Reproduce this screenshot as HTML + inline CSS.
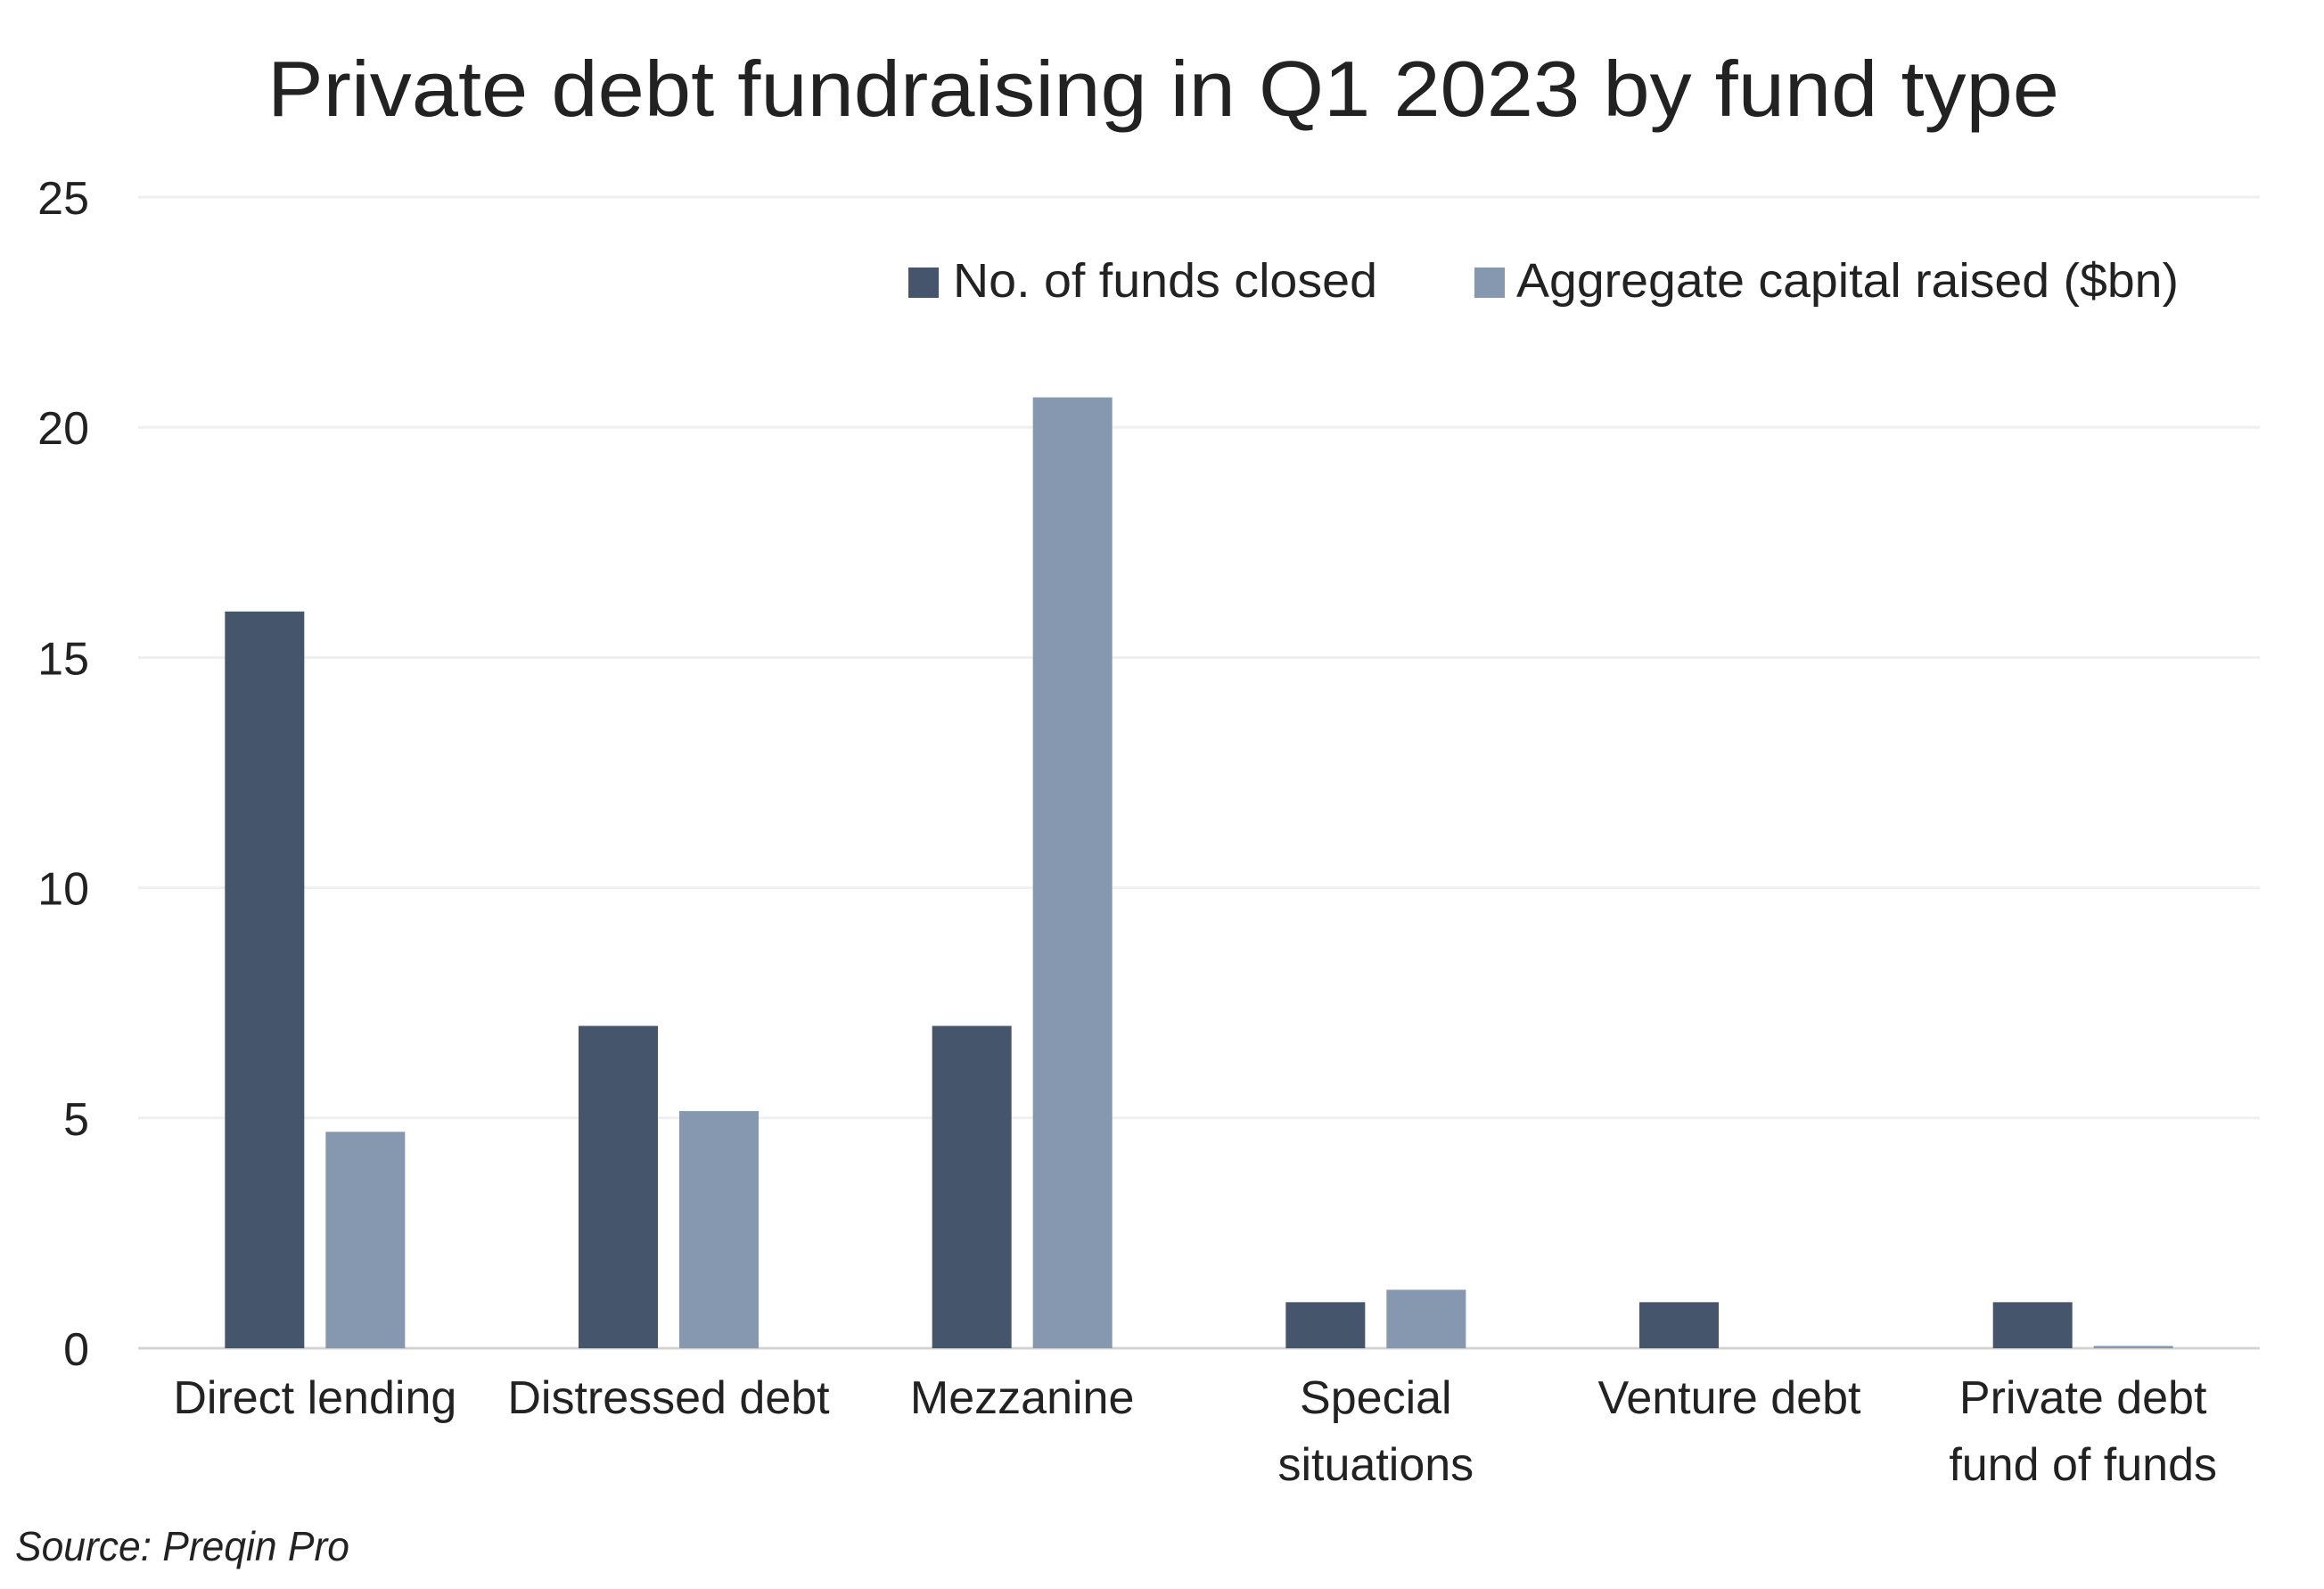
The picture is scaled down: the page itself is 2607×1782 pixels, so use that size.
<!DOCTYPE html>
<html><head><meta charset="utf-8"><style>
html,body{margin:0;padding:0;background:#fff;}
svg{display:block;font-family:"Liberation Sans",sans-serif;}
</style></head><body>
<svg id="chart" width="2607" height="1782" viewBox="0 0 2607 1782" xmlns="http://www.w3.org/2000/svg">
<rect width="2607" height="1782" fill="#fff"/>
<text x="1305" y="130" font-size="88" fill="#222" text-anchor="middle" textLength="2010" lengthAdjust="spacingAndGlyphs">Private debt fundraising in Q1 2023 by fund type</text>
<g id="grid"></g><g id="bars"></g><g id="xlabels"></g>
<g>
<rect x="1019" y="300" width="34" height="34" fill="#45556b"/>
<text x="1069" y="333" font-size="54" fill="#222" textLength="476" lengthAdjust="spacingAndGlyphs">No. of funds closed</text>
<rect x="1654" y="300" width="34" height="34" fill="#8598b0"/>
<text x="1701" y="333" font-size="54" fill="#222" textLength="743" lengthAdjust="spacingAndGlyphs">Aggregate capital raised ($bn)</text>
</g>
<text x="17" y="1750" font-size="46" font-style="italic" fill="#222" textLength="375" lengthAdjust="spacingAndGlyphs">Source: Preqin Pro</text>
</svg>
<script>
const categories = [["Direct lending"],["Distressed debt"],["Mezzanine"],["Special","situations"],["Venture debt"],["Private debt","fund of funds"]];
const fundsClosed = [16, 7, 7, 1, 1, 1];
const capitalRaised = [4.7, 5.15, 20.65, 1.27, 0, 0.05];
const yTicks = [0, 5, 10, 15, 20, 25];
const NS = "http://www.w3.org/2000/svg";
const X0 = 155, X1 = 2535, Y0 = 1512, Y1 = 221, YMAX = 25;
const band = (X1 - X0) / categories.length;
function y(v){ return Y0 - (v / YMAX) * (Y0 - Y1); }
function xc(i){ return X0 + band * (i + 0.5); }
function mk(tag, attrs, parent){ const e = document.createElementNS(NS, tag); for (const k in attrs) e.setAttribute(k, attrs[k]); parent.appendChild(e); return e; }
const grid = document.getElementById('grid');
yTicks.forEach(t => {
  const l = mk('line', {x1: X0, x2: X1, y1: y(t), y2: y(t), stroke: t === 0 ? '#d4d4d4' : '#efefef', 'stroke-width': 3}, grid);
  
  
  const tx = mk('text', {x: 100, y: y(t) + 19, 'font-size': 52, fill: '#222', 'text-anchor': 'end'}, grid);
  tx.textContent = t;
  
  
});
const bars = document.getElementById('bars');
const bw = 89, gap = 24;
categories.forEach((c, i) => {
  const cx = xc(i);
  const b1 = mk('rect', {x: cx - gap/2 - bw, y: y(fundsClosed[i]), width: bw, height: Y0 - y(fundsClosed[i]), fill: '#45556b'}, bars);
  
  
  const b2 = mk('rect', {x: cx + gap/2, y: y(capitalRaised[i]), width: bw, height: Y0 - y(capitalRaised[i]), fill: '#8598b0'}, bars);
  
  
  const xl = document.getElementById('xlabels');
  c.forEach((line, j) => {
    const t = mk('text', {x: cx, y: 1585 + j * 75, 'font-size': 52, fill: '#222', 'text-anchor': 'middle'}, xl);
    t.textContent = line;
    
    
  });
});
</script>
</body></html>
